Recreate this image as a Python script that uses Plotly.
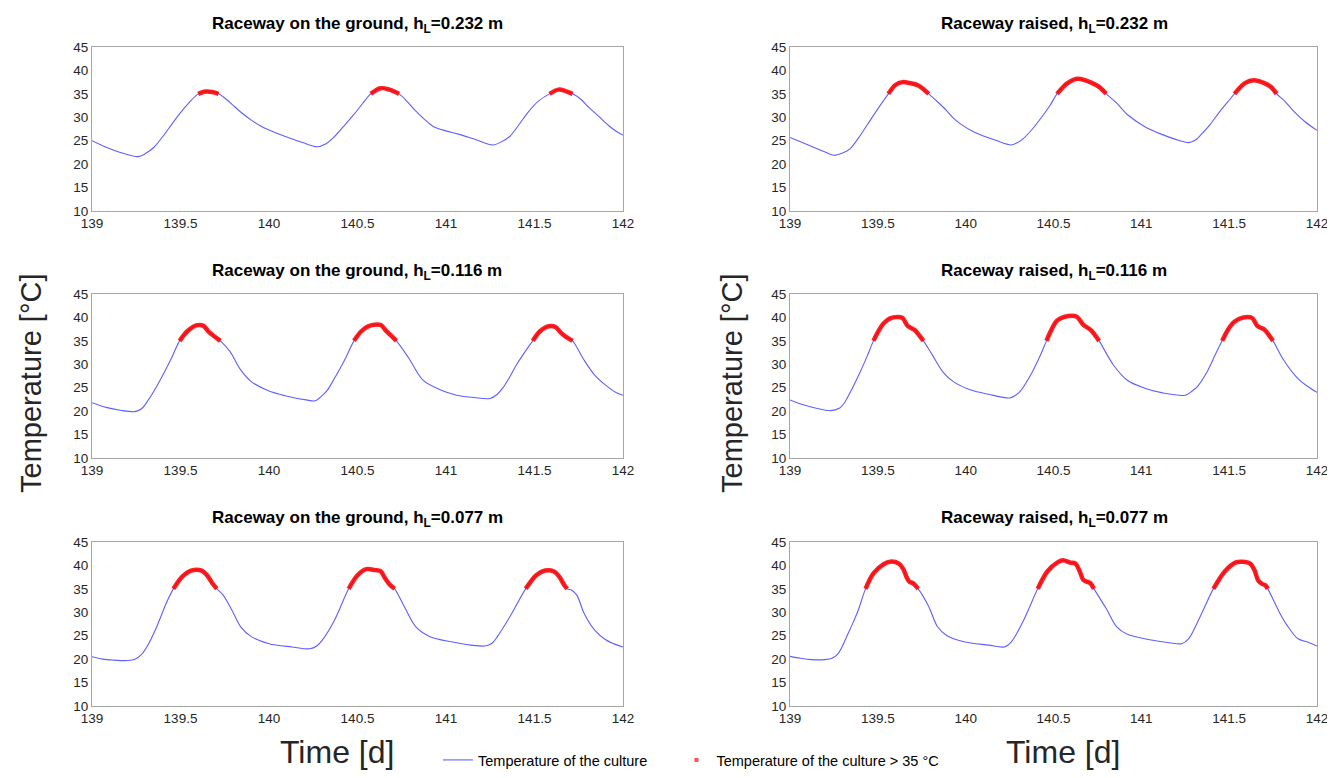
import plotly.graph_objects as go
from plotly.subplots import make_subplots

# ---------------- data ----------------
# Raceway on the ground, hL = 0.232 m
t_ground_232 = [139.00, 139.08, 139.16, 139.26, 139.30, 139.35, 139.40, 139.45, 139.50, 139.55,
                139.60, 139.64, 139.68, 139.715, 139.76, 139.805, 139.85, 139.90, 139.95, 140.00,
                140.10, 140.19, 140.27, 140.32, 140.37, 140.42, 140.48, 140.53, 140.575, 140.63,
                140.68, 140.735, 140.78, 140.83, 140.88, 140.93, 141.00, 141.07, 141.17, 141.265,
                141.31, 141.36, 141.41, 141.46, 141.52, 141.585, 141.635, 141.675, 141.715, 141.76,
                141.81, 141.86, 141.92, 141.97, 142.00]
T_ground_232 = [25.0, 23.6, 22.5, 21.6, 22.2, 23.6, 25.9, 28.5, 31.0, 33.2,
                35.0, 35.5, 35.4, 35.0, 33.8, 32.3, 30.8, 29.4, 28.2, 27.3,
                25.8, 24.6, 23.7, 24.3, 25.9, 28.0, 30.6, 33.0, 35.0, 36.2,
                35.9, 35.0, 33.4, 31.3, 29.5, 28.0, 27.1, 26.4, 25.2, 24.1,
                24.7, 25.9, 28.3, 30.9, 33.4, 35.0, 35.9, 35.6, 35.0, 33.9,
                32.0, 30.3, 28.2, 26.8, 26.2]

# Raceway raised, hL = 0.232 m
t_raised_232 = [139.00, 139.07, 139.14, 139.20, 139.25, 139.30, 139.34, 139.39, 139.44, 139.50,
                139.56, 139.60, 139.64, 139.68, 139.73, 139.79, 139.84, 139.89, 139.93, 139.97,
                140.05, 140.17, 140.26, 140.30, 140.33, 140.38, 140.43, 140.48, 140.52, 140.58,
                140.64, 140.72, 140.76, 140.80, 140.86, 140.92, 141.02, 141.12, 141.22, 141.27,
                141.31, 141.34, 141.39, 141.44, 141.49, 141.53, 141.59, 141.64, 141.70, 141.74,
                141.77, 141.82, 141.87, 141.93, 142.00]
T_raised_232 = [25.7, 24.6, 23.5, 22.6, 21.9, 22.4, 23.2, 25.6, 28.4, 31.8,
                35.0, 36.9, 37.5, 37.3, 36.8, 35.0, 33.3, 31.5, 29.8, 28.6,
                26.8, 25.1, 24.1, 24.7, 25.5, 27.5, 29.9, 32.5, 35.0, 37.3,
                38.2, 37.3, 36.5, 35.0, 33.0, 30.6, 28.0, 26.3, 25.0, 24.6,
                25.2, 26.3, 28.4, 30.9, 33.2, 35.0, 37.3, 37.9, 37.3, 36.4,
                35.0, 33.3, 31.2, 29.1, 27.2]

# Raceway on the ground, hL = 0.116 m
t_ground_116 = [139.00, 139.08, 139.16, 139.24, 139.28, 139.32, 139.37, 139.41, 139.45, 139.495,
                139.54, 139.59, 139.63, 139.66, 139.69, 139.725, 139.78, 139.84, 139.90, 140.00,
                140.09, 140.21, 140.26, 140.30, 140.33, 140.37, 140.40, 140.44, 140.48, 140.52,
                140.56, 140.63, 140.66, 140.69, 140.72, 140.79, 140.87, 140.97, 141.06, 141.16,
                141.25, 141.29, 141.32, 141.36, 141.40, 141.445, 141.49, 141.53, 141.58, 141.62,
                141.65, 141.68, 141.715, 141.78, 141.84, 141.90, 141.96, 142.00]
T_ground_116 = [21.8, 20.8, 20.2, 19.9, 20.5, 22.5, 25.6, 28.4, 31.4, 35.0,
                37.1, 38.3, 38.2, 36.9, 36.0, 35.0, 32.7, 28.8, 26.3, 24.3,
                23.3, 22.4, 22.2, 23.3, 24.5, 27.0, 29.0, 31.9, 35.0, 37.0,
                38.1, 38.4, 37.2, 36.1, 35.0, 31.3, 26.6, 24.5, 23.4, 22.9,
                22.7, 23.6, 24.9, 27.3, 30.0, 32.6, 35.0, 37.0, 38.1, 37.9,
                36.7, 35.8, 35.0, 30.9, 27.7, 25.6, 24.0, 23.4]

# Raceway raised, hL = 0.116 m
t_raised_116 = [139.00, 139.08, 139.15, 139.23, 139.28, 139.31, 139.34, 139.40, 139.44, 139.475,
                139.505, 139.535, 139.57, 139.61, 139.64, 139.67, 139.71, 139.735, 139.76, 139.81,
                139.87, 139.93, 140.03, 140.13, 140.25, 140.28, 140.31, 140.37, 140.42, 140.46,
                140.49, 140.52, 140.56, 140.63, 140.67, 140.71, 140.735, 140.76, 140.84, 140.92,
                141.02, 141.12, 141.25, 141.29, 141.32, 141.38, 141.42, 141.46, 141.495, 141.53,
                141.58, 141.63, 141.66, 141.70, 141.725, 141.75, 141.81, 141.89, 141.95, 142.00]
T_raised_116 = [22.4, 21.3, 20.6, 20.1, 20.6, 21.8, 23.8, 28.4, 31.8, 35.0,
                37.2, 38.8, 39.8, 40.1, 39.9, 38.2, 37.3, 36.2, 35.0, 32.0,
                28.4, 26.3, 24.5, 23.6, 22.8, 23.3, 24.2, 27.7, 31.5, 35.0,
                37.5, 39.3, 40.1, 40.2, 38.4, 37.4, 36.3, 35.0, 29.9, 26.6,
                24.9, 23.9, 23.4, 24.3, 25.3, 28.8, 32.0, 35.0, 37.5, 39.1,
                40.0, 39.9, 38.2, 37.4, 36.3, 35.0, 30.9, 27.0, 25.2, 24.0]

# Raceway on the ground, hL = 0.077 m
t_ground_077 = [139.00, 139.06, 139.12, 139.20, 139.24, 139.28, 139.32, 139.37, 139.42, 139.46,
                139.51, 139.56, 139.62, 139.65, 139.68, 139.705, 139.74, 139.79, 139.84, 139.90,
                140.00, 140.13, 140.23, 140.27, 140.30, 140.37, 140.45, 140.50, 140.55, 140.60,
                140.63, 140.655, 140.68, 140.71, 140.77, 140.83, 140.91, 141.03, 141.14, 141.22,
                141.26, 141.29, 141.36, 141.45, 141.51, 141.56, 141.61, 141.64, 141.665, 141.685,
                141.71, 141.74, 141.78, 141.84, 141.90, 141.96, 142.00]
T_ground_077 = [20.5, 20.0, 19.8, 19.7, 19.9, 21.0, 23.3, 27.3, 32.0, 35.0,
                37.6, 38.9, 38.9, 37.9, 36.2, 35.0, 33.7, 30.5, 26.9, 24.8,
                23.3, 22.6, 22.2, 22.8, 24.0, 28.3, 35.0, 37.9, 39.2, 39.0,
                38.8, 37.3, 36.0, 35.0, 30.8, 26.9, 24.8, 23.7, 23.0, 22.8,
                23.4, 24.8, 29.0, 35.0, 37.9, 38.9, 38.7, 37.6, 36.0, 35.0,
                34.7, 33.6, 29.8, 26.2, 24.2, 23.1, 22.6]

# Raceway raised, hL = 0.077 m
t_raised_077 = [139.00, 139.06, 139.12, 139.20, 139.24, 139.27, 139.30, 139.33, 139.36, 139.39,
                139.43, 139.475, 139.535, 139.57, 139.62, 139.645, 139.665, 139.68, 139.70, 139.73,
                139.79, 139.84, 139.89, 139.99, 140.13, 140.22, 140.26, 140.33, 140.41, 140.465,
                140.525, 140.555, 140.595, 140.625, 140.65, 140.67, 140.71, 140.73, 140.80, 140.86,
                140.92, 141.04, 141.16, 141.23, 141.27, 141.33, 141.41, 141.475, 141.535, 141.575,
                141.62, 141.645, 141.665, 141.69, 141.705, 141.72, 141.79, 141.83, 141.89, 141.95,
                142.00]
T_raised_077 = [20.6, 20.2, 19.9, 19.9, 20.2, 21.0, 22.9, 25.4, 27.9, 30.6,
                35.0, 38.3, 40.3, 40.8, 40.4, 39.2, 37.4, 36.5, 36.2, 35.0,
                31.2, 26.9, 25.1, 23.7, 23.0, 22.6, 23.7, 28.3, 35.0, 38.7,
                40.7, 41.1, 40.6, 40.4, 38.7, 36.9, 36.2, 35.0, 30.8, 26.9,
                25.3, 24.2, 23.5, 23.3, 24.4, 28.7, 35.0, 38.7, 40.6, 40.8,
                40.4, 38.9, 36.8, 36.0, 35.8, 35.0, 29.7, 27.2, 24.4, 23.6,
                22.8]

titles = [
    "Raceway on the ground, h<sub>L</sub>=0.232 m", "Raceway raised, h<sub>L</sub>=0.232 m",
    "Raceway on the ground, h<sub>L</sub>=0.116 m", "Raceway raised, h<sub>L</sub>=0.116 m",
    "Raceway on the ground, h<sub>L</sub>=0.077 m", "Raceway raised, h<sub>L</sub>=0.077 m",
]
x_ticks = [139, 139.5, 140, 140.5, 141, 141.5, 142]
x_tick_labels = ["139", "139.5", "140", "140.5", "141", "141.5", "142"]
y_ticks = [10, 15, 20, 25, 30, 35, 40, 45]
threshold = 35.0
legend_names = ["Temperature of the culture", "Temperature of the culture > 35 °C"]

series = [
    (t_ground_232, T_ground_232), (t_raised_232, T_raised_232),
    (t_ground_116, T_ground_116), (t_raised_116, T_raised_116),
    (t_ground_077, T_ground_077), (t_raised_077, T_raised_077),
]

# ---------------- figure ----------------
W, H = 1335, 778
FONT = "Liberation Sans Narrow, Arial Narrow, Liberation Sans, Arial, sans-serif"
BLUE = "rgb(95,95,255)"
RED = "rgba(255,0,0,0.88)"
NBSP = "\u00a0"


def px_x(p):
    return p / W


def px_y(p):
    return 1 - p / H


fig = make_subplots(rows=3, cols=2)

x_dom = {1: [px_x(92), px_x(623)], 2: [px_x(790), px_x(1317)]}
row_px = {1: (47, 211), 2: (294, 458), 3: (542, 706)}


def y_dom(r):
    top, bot = row_px[r]
    return [px_y(bot), px_y(top)]


def above_runs(t, T):
    runs, cur = [], []
    for ti, Ti in zip(t, T):
        if Ti >= threshold:
            cur.append((ti, Ti))
        else:
            if cur:
                runs.append(cur)
            cur = []
    if cur:
        runs.append(cur)
    return runs


for i, (t, T) in enumerate(series):
    r, c = i // 2 + 1, i % 2 + 1
    fig.add_trace(go.Scatter(x=t, y=T, mode="lines",
                             line=dict(color=BLUE, width=1.1, shape="spline", smoothing=0.9),
                             name=legend_names[0] + NBSP * 6, showlegend=(i == 0),
                             legendrank=1), row=r, col=c)
    for run in above_runs(t, T):
        fig.add_trace(go.Scatter(x=[p[0] for p in run], y=[p[1] for p in run], mode="lines",
                                 line=dict(color=RED, width=4.5, shape="spline", smoothing=0.9),
                                 showlegend=False, hoverinfo="skip"), row=r, col=c)

# legend entry for the red markers
fig.add_trace(go.Scatter(x=[None], y=[None], mode="markers",
                         marker=dict(color="rgba(255,60,60,0.9)", size=4, symbol="square"),
                         name=legend_names[1], legendrank=2), row=1, col=1)

for i in range(6):
    r, c = i // 2 + 1, i % 2 + 1
    fig.update_xaxes(domain=x_dom[c], range=[139, 142], tickvals=x_ticks, ticktext=x_tick_labels,
                     showline=True, linecolor="#a6a6a6", linewidth=1, mirror=True,
                     showgrid=False, zeroline=False, ticks="", automargin=False,
                     ticklabeloverflow="allow",
                     tickfont=dict(family=FONT, size=13.5, color="#262626"), row=r, col=c)
    fig.update_yaxes(domain=y_dom(r), range=[10, 45], tickvals=y_ticks,
                     showline=True, linecolor="#a6a6a6", linewidth=1, mirror=True,
                     showgrid=False, zeroline=False, ticks="", automargin=False,
                     tickfont=dict(family=FONT, size=13.5, color="#262626"), row=r, col=c)

annotations = []
title_y_px = {1: 25, 2: 272, 3: 519}
title_x_px = {1: 357, 2: 1054}
for i, ttl in enumerate(titles):
    r, c = i // 2 + 1, i % 2 + 1
    annotations.append(dict(text="<b>" + ttl + "</b>", x=px_x(title_x_px[c]), y=px_y(title_y_px[r]),
                            xref="paper", yref="paper", xanchor="center", yanchor="middle",
                            showarrow=False, font=dict(family=FONT, size=17, color="#000000")))
for xpx in (31, 732):
    annotations.append(dict(text="Temperature [°C]", x=px_x(xpx), y=px_y(383), xref="paper", yref="paper",
                            textangle=-90, xanchor="center", yanchor="middle", showarrow=False,
                            font=dict(family=FONT, size=29, color="#262626")))
for xpx in (337, 1063):
    annotations.append(dict(text="Time [d]", x=px_x(xpx), y=px_y(752), xref="paper", yref="paper",
                            xanchor="center", yanchor="middle", showarrow=False,
                            font=dict(family=FONT, size=32, color="#262626")))

fig.update_layout(
    template="none",
    margin=dict(l=0, r=0, t=0, b=0, autoexpand=False),
    paper_bgcolor="white", plot_bgcolor="white",
    font=dict(family=FONT, color="#262626"),
    annotations=annotations,
    showlegend=True,
    legend=dict(orientation="h", x=px_x(438), y=px_y(760), xanchor="left", yanchor="middle",
                font=dict(family=FONT, size=14.5, color="#000000"), bgcolor="rgba(0,0,0,0)",
                itemwidth=30, tracegroupgap=0),
)

# the page's default 8px body margin is cancelled on the plot div itself
fig.write_html("out.html", config={"displayModeBar": False},
               default_width="%dpx; margin:-8px" % W, default_height="%dpx" % H)
